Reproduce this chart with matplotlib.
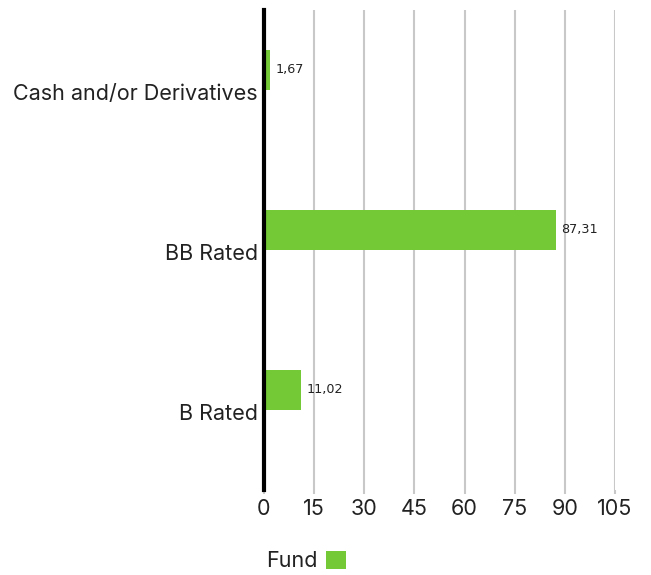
import matplotlib
matplotlib.use('Agg')
import matplotlib.pyplot as plt
from matplotlib.patches import Patch
from matplotlib.transforms import ScaledTranslation

categories = ['Cash and/or Derivatives', 'BB Rated', 'B Rated']
fund = [1.67, 87.31, 11.02]
value_labels = ['1,67', '87,31', '11,02']
xticks = [0, 15, 30, 45, 60, 75, 90, 105]

GREEN = '#74c936'
plt.rcParams['font.family'] = ['Inter', 'DejaVu Sans']

fig = plt.figure(figsize=(6.51, 5.75), dpi=100)
ax = fig.add_axes([264 / 651, 1 - 490 / 575, 351 / 651, 480 / 575])

pos = [2, 1, 0]
bar_h = 0.25
ax.barh([p + bar_h / 2 for p in pos], fund, height=bar_h, color=GREEN, zorder=3)
for p, v, lab in zip(pos, fund, value_labels):
    ax.text(v + 1.7, p + bar_h / 2, lab, va='center', ha='left',
            fontsize=9.2, family='DejaVu Sans', color='#222222', zorder=4)

ax.set_xlim(0, 105)
ax.set_ylim(-0.5, 2.5)
ax.set_xticks(xticks)
ax.set_xticklabels([str(t) for t in xticks])
ax.set_yticks(pos)
ax.set_yticklabels(categories)
ax.tick_params(axis='y', length=0, pad=4.5, labelsize=15.5, labelcolor='#222222')
ax.tick_params(axis='x', length=3, width=1.5, color='#c8c8c8', pad=3.5,
               labelsize=15.5, labelcolor='#222222')
for t in ax.get_yticklabels():
    t.set_transform(t.get_transform() + ScaledTranslation(0, -1.5 / 72, fig.dpi_scale_trans))

ax.grid(axis='x', color='#c8c8c8', linewidth=1.5, zorder=0)
ax.set_axisbelow(True)
for s in ['top', 'right', 'bottom']:
    ax.spines[s].set_visible(False)
ax.spines['left'].set_linewidth(3)
ax.spines['left'].set_color('black')
ax.spines['left'].set_zorder(5)

handle = Patch(facecolor=GREEN, edgecolor='none')
fig.legend([handle], ['Fund'], loc='center', bbox_to_anchor=(306 / 651, 1 - 561 / 575),
           frameon=False, markerfirst=False, handlelength=0.95, handleheight=0.95,
           handletextpad=0.4, fontsize=15.5, labelcolor='#222222')

plt.savefig('out.png', dpi=100)
plt.close()
